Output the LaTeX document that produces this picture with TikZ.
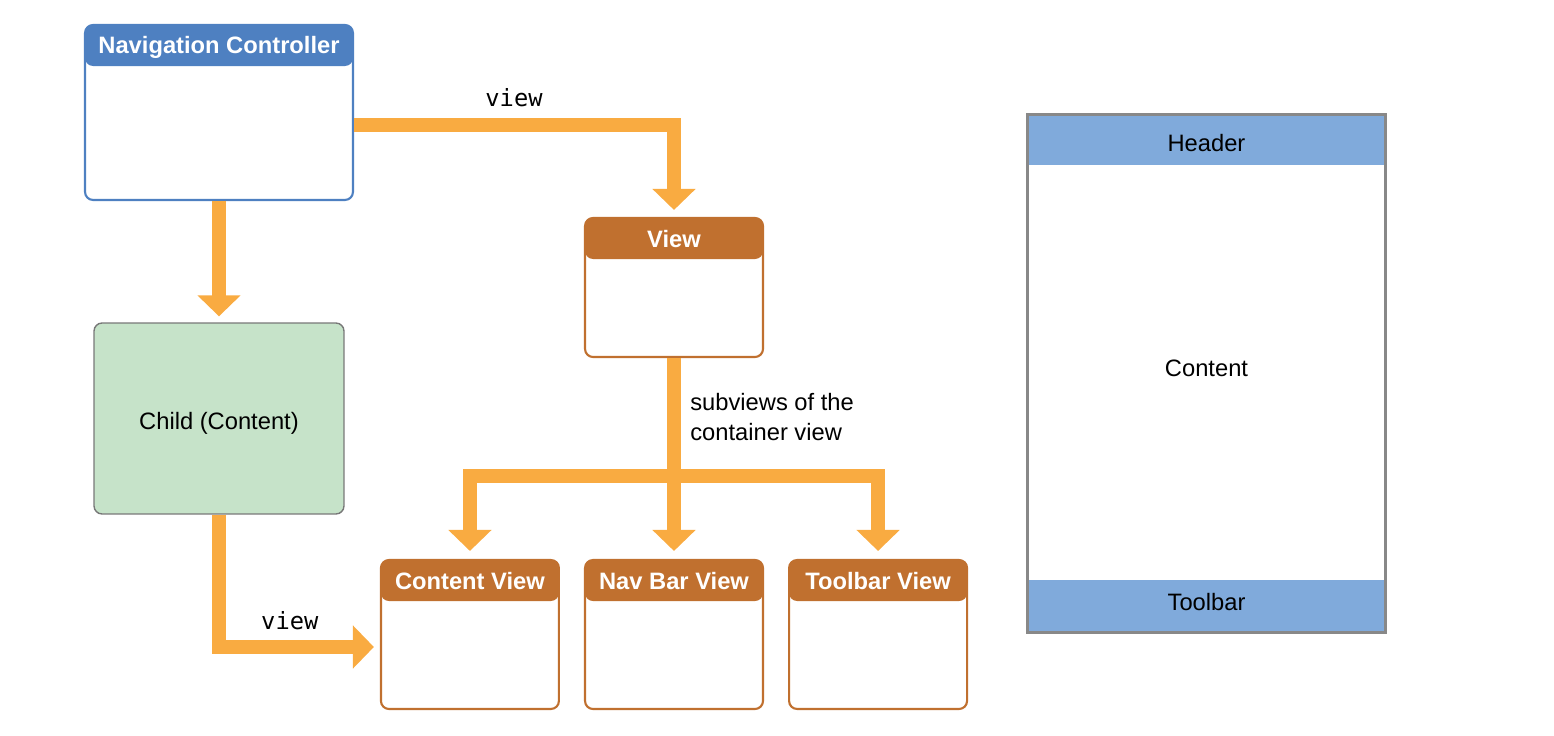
\documentclass[tikz,border=0pt]{standalone}
\usepackage{fontspec}
\setmainfont{Liberation Sans}
\setmonofont{DejaVu Sans Mono}
\usepackage{xcolor}
\usetikzlibrary{arrows.meta, positioning}

\definecolor{navblue}{RGB}{78,128,193}
\definecolor{viewbrown}{RGB}{192,112,47}
\definecolor{flowline}{RGB}{249,171,65}
\definecolor{childgreen}{RGB}{198,227,201}
\definecolor{childedge}{RGB}{120,120,120}
\definecolor{bandblue}{RGB}{128,170,219}
\definecolor{paneledge}{RGB}{136,136,136}

\begin{document}
\begin{tikzpicture}[
    x=0.02cm, y=-0.02cm,
    node distance=0.48cm,
    % Estilos de nodos
    card/.style={rectangle, draw=#1, line width=1.2pt, fill=white, rounded corners=0.16cm, inner sep=0pt,
        minimum width=3.56cm, minimum height=2.98cm,
        path picture={\fill[#1] (path picture bounding box.north west) rectangle ([yshift=-0.82cm]path picture bounding box.north east);}},
    title/.style={font=\bfseries\fontsize{13.5}{16}\selectfont, text=white, inner sep=0pt},
    child/.style={rectangle, draw=childedge, line width=0.8pt, fill=childgreen, rounded corners=0.16cm,
        minimum width=5cm, minimum height=3.82cm, font=\fontsize{13.5}{16}\selectfont,
        text height=12.6pt, text depth=0pt},
    band/.style={rectangle, fill=bandblue, minimum width=7.14cm, inner sep=0pt, font=\fontsize{13.5}{16}\selectfont},
    flow/.style={line width=0.28cm, draw=flowline, line join=miter, -{Triangle[width=0.84cm, length=0.42cm]}},
    tag/.style={font=\ttfamily\fontsize{13.5}{16}\selectfont, inner sep=0pt},
    note/.style={font=\fontsize{13.5}{17}\selectfont, align=left, inner sep=0pt}
]
\useasboundingbox (0,0) rectangle (1554,736);

% Controlador y vista
\node[card=navblue, minimum width=5.36cm, minimum height=3.5cm] (nav) at (219,112.5) {};
\node[title] (navtitle) at ([yshift=-0.46cm]nav.north) {Navigation Controller};
\node[card=viewbrown, minimum height=2.78cm] (view) at (674,287.5) {};
\node[title] (viewtitle) at ([yshift=-0.45cm]view.north) {View};

% Hijo
\node[child] (child) at (219,418.5) {Child (Content)};

% Subvistas
\node[card=viewbrown] (navbarv) at (674,634.5) {};
\node[card=viewbrown, left=of navbarv] (contentv) {};
\node[card=viewbrown, right=of navbarv] (toolbarv) {};
\node[title] (contenttitle) at ([yshift=-0.45cm]contentv.north) {Content View};
\node[title] (navbartitle) at ([yshift=-0.45cm]navbarv.north) {Nav Bar View};
\node[title] (toolbartitle) at ([yshift=-0.45cm]toolbarv.north) {Toolbar View};

% Pantalla
\node[minimum width=7.14cm, minimum height=10.34cm, inner sep=0pt] (panel) at (1206.5,373.5) {};
\node[band, minimum height=1cm, anchor=north, text height=13pt] (header) at (panel.north) {Header};
\node[band, minimum height=1.04cm, anchor=south, text depth=4.6pt] (toolbar) at (panel.south) {Toolbar};
\node[font=\fontsize{13.5}{16}\selectfont] (content) at ([yshift=0.11cm]panel.center) {Content};
\draw[paneledge, line width=1.5pt] (panel.north west) rectangle (panel.south east);

% Flechas
\draw[flow, shorten >=0.14cm] ([yshift=-0.25cm]nav.east) -| (view.north)
    node[pos=0.25, above=0.22cm, tag] (viewtag) {view};
\draw[flow, shorten >=0.12cm] (nav.south) -- (child.north);
\draw[flow, shorten >=0.12cm] (child.south) |- ([yshift=-0.25cm]contentv.west)
    node[pos=0.72, above=0.2cm, tag] (childtag) {view};

\coordinate (split) at (674,475.5);
\draw[flow, shorten >=0.16cm] (view.south) -- (navbarv.north);
\draw[flow, shorten >=0.16cm] (split) -| (contentv.north);
\draw[flow, shorten >=0.16cm] (split) -| (toolbarv.north);
\node[note, anchor=west] (subnote) at (690,417) {subviews of the\\container view};

\end{tikzpicture}
\end{document}
